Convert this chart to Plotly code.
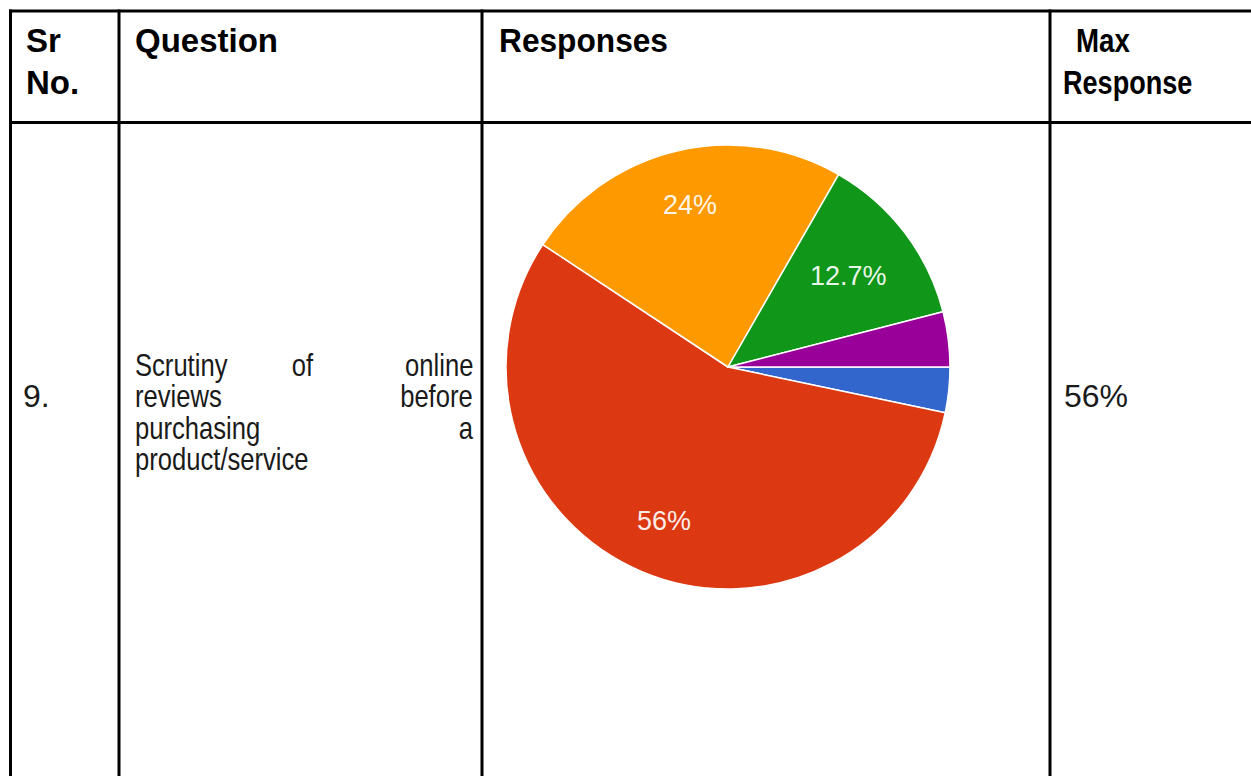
import math
import json
import plotly.graph_objects as go

# ---------------- data ----------------
header_cells = ["Sr No.", "Question", "Responses", "Max Response"]
row_number = "9."
question_text = "Scrutiny of online reviews before purchasing a product/service"
max_response = "56%"

slice_labels = ["Option 1", "Option 2", "Option 3", "Option 4", "Option 5"]
slice_values = [3.3, 56.0, 24.0, 12.7, 4.0]
slice_colors = ["#3366CC", "#DC3912", "#FF9900", "#109618", "#990099"]
labelled = ["Option 2", "Option 3", "Option 4"]

# ---------------- layout helpers ----------------
W, H = 1251, 776


def X(px):
    return px / W


def Y(py):
    return 1 - py / H


fig = go.Figure()

# pie geometry (pixels)
PCX, PCY, PR = 728, 367, 222
ROTATION = 90  # first slice starts at 3 o'clock

fig.add_trace(go.Pie(
    labels=slice_labels,
    values=slice_values,
    sort=False,
    direction="clockwise",
    rotation=ROTATION,
    marker=dict(colors=slice_colors, line=dict(color="white", width=1.5)),
    textinfo="none",
    hoverinfo="label+percent",
    showlegend=False,
    domain=dict(x=[X(PCX - PR), X(PCX + PR)], y=[Y(PCY + PR), Y(PCY - PR)]),
))

# condensing spec for annotations: index -> (origin, scaleX)
condense = {}


def add_text(txt, x, y, font, xanchor="center", scale=None):
    idx = len(fig.layout.annotations)
    fig.add_annotation(
        x=X(x), y=Y(y), xref="paper", yref="paper",
        text=txt, showarrow=False, xanchor=xanchor, yanchor="middle",
        font=font, borderpad=0, borderwidth=0,
    )
    if scale is not None:
        condense[str(idx)] = [xanchor if xanchor != "center" else "center", scale]


# slice labels, positioned from the data (mid-angle of each slice)
label_radius = {"Option 2": 0.75, "Option 3": 0.75, "Option 4": 0.68}
LABEL_FONT = dict(family="Liberation Sans, Arial, sans-serif", size=27,
                  color="rgba(255,255,255,0.93)")
total = sum(slice_values)
angle = ROTATION
for lab, v in zip(slice_labels, slice_values):
    span = v / total * 360
    mid = math.radians(angle + span / 2)
    angle += span
    if lab not in labelled:
        continue
    rr = label_radius[lab] * PR
    lx = PCX + rr * math.sin(mid)
    ly = PCY - rr * math.cos(mid)
    add_text(f"{v:g}%", lx, ly, LABEL_FONT, "center")

# ---------------- table lines ----------------
LW = 3
line_style = dict(color="black", width=LW)
vlines = [10.5, 119, 482, 1050]
hlines = [11, 122.5]
for vx in vlines:
    fig.add_shape(type="line", xref="paper", yref="paper",
                  x0=X(vx), x1=X(vx), y0=Y(9.5), y1=Y(H + 2), line=line_style)
for hy in hlines:
    fig.add_shape(type="line", xref="paper", yref="paper",
                  x0=X(9), x1=X(W + 2), y0=Y(hy), y1=Y(hy), line=line_style)

# ---------------- text ----------------
HEAD_FONT = dict(family="Liberation Sans, Arial, sans-serif", size=33, color="black")
BODY_FONT = dict(family="Liberation Sans, Arial, sans-serif", size=32, color="#1a1a1a")


def text_at(txt, x, baseline, font, anchor="left", scale=None):
    fs = font["size"]
    add_text(txt, x, baseline - 0.34 * fs, font, anchor, scale)


def bold(s):
    return f"<b>{s}</b>"


sr, no = header_cells[0].split(" ")
text_at(bold(sr), 26, 52, HEAD_FONT)
text_at(bold(no), 26, 94, HEAD_FONT)
text_at(bold(header_cells[1]), 135, 52, HEAD_FONT)
text_at(bold(header_cells[2]), 499, 52, HEAD_FONT, scale=0.96)
mx, resp = header_cells[3].split(" ")
text_at(bold(mx), 1076, 52, HEAD_FONT, scale=0.84)
text_at(bold(resp), 1063, 94, HEAD_FONT, scale=0.82)

# body row
text_at(row_number, 23, 407, BODY_FONT)
text_at(max_response, 1064, 407, BODY_FONT)

# justified question text (condensed face)
Q_SCALE = 0.8
words = question_text.split(" ")
lines_words = [words[0:3], words[3:5], words[5:7], words[7:8]]
left_edge, right_edge = 135, 473
baselines = [376, 407, 439, 470]
for ws, bl in zip(lines_words, baselines):
    text_at(ws[0], left_edge, bl, BODY_FONT, "left", Q_SCALE)
    if len(ws) == 2:
        text_at(ws[1], right_edge, bl, BODY_FONT, "right", Q_SCALE)
    elif len(ws) == 3:
        text_at(ws[1], 302, bl, BODY_FONT, "center", Q_SCALE)
        text_at(ws[2], right_edge, bl, BODY_FONT, "right", Q_SCALE)

fig.update_layout(
    width=W, height=H,
    margin=dict(l=0, r=0, t=0, b=0),
    paper_bgcolor="white", plot_bgcolor="white",
    showlegend=False,
)

post = (
    "var gd = document.getElementById('{plot_id}');"
    "var spec = " + json.dumps(condense) + ";"
    "function applyCondense(){"
    "  gd.querySelectorAll('g.annotation').forEach(function(g){"
    "    var idx = g.getAttribute('data-index');"
    "    if (spec[idx]) {"
    "      var t = g.querySelector('text.annotation-text');"
    "      if (!t) return;"
    "      t.style.transformBox = 'fill-box';"
    "      t.style.transformOrigin = spec[idx][0] + ' center';"
    "      t.style.transform = 'scaleX(' + spec[idx][1] + ')';"
    "    }"
    "  });"
    "}"
    "applyCondense();"
    "gd.on('plotly_afterplot', applyCondense);"
)

fig.write_html("out.html", config={"displayModeBar": False}, post_script=post)
